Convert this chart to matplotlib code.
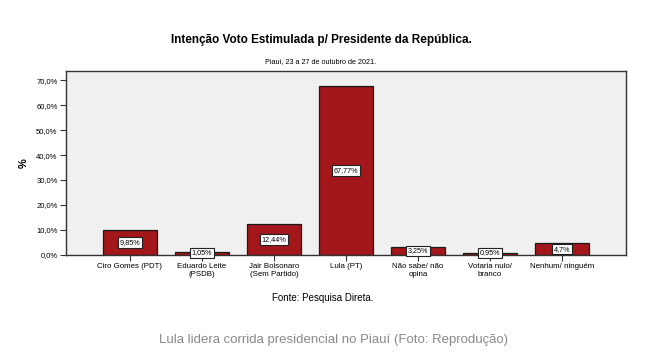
import matplotlib
matplotlib.use("Agg")
import matplotlib.pyplot as plt

plt.rcParams['font.family'] = ['Liberation Sans', 'DejaVu Sans']

categories = ["Ciro Gomes (PDT)", "Eduardo Leite\n(PSDB)", "Jair Bolsonaro\n(Sem Partido)",
              "Lula (PT)", "Não sabe/ não\nopina", "Votaria nulo/\nbranco", "Nenhum/ ninguém"]
values = [9.85, 1.05, 12.44, 67.77, 3.25, 0.95, 4.7]
value_labels = ["9,85%", "1,05%", "12,44%", "67,77%", "3,25%", "0,95%", "4,7%"]
yticks = [0, 10, 20, 30, 40, 50, 60, 70]
ytick_labels = ["0,0%", "10,0%", "20,0%", "30,0%", "40,0%", "50,0%", "60,0%", "70,0%"]

fig = plt.figure(figsize=(6.46, 3.52), dpi=100)
ax = fig.add_axes([0.102, 0.2756, 0.867, 0.5224])
ax.set_facecolor("#f0f0f0")

x = list(range(len(categories)))
ax.bar(x, values, width=0.75, color="#a3161a", edgecolor="#1a1a1a", linewidth=0.9, zorder=2)
for xi, v, lab in zip(x, values, value_labels):
    ax.text(xi, v / 2 if v > 1.6 else 0.8, lab, ha="center", va="center", fontsize=5.2,
            bbox=dict(boxstyle="square,pad=0.25", fc="white", ec="#222222", lw=0.8), zorder=3)

ax.set_xlim(-0.89, 6.89)
ax.set_ylim(0, 73.6)
ax.set_yticks(yticks)
ax.set_yticklabels(ytick_labels, fontsize=5.5)
ax.set_xticks(x)
ax.set_xticklabels(categories, fontsize=5.7)
ax.tick_params(axis="both", direction="out", length=4, width=0.8, color="#333333", pad=2)
for s in ax.spines.values():
    s.set_color("#333333")
    s.set_linewidth(1.0)

ax.set_ylabel("%", fontsize=8, fontweight="bold", labelpad=5)

fig.text(0.497, 0.886, "Intenção Voto Estimulada p/ Presidente da República.", ha="center", va="center",
         fontsize=8.5, fontweight="bold")
fig.text(0.497, 0.824, "Piauí, 23 a 27 de outubro de 2021.", ha="center", va="center", fontsize=5.2)
fig.text(0.5, 0.153, "Fonte: Pesquisa Direta.", ha="center", va="center", fontsize=7)
fig.text(0.516, 0.034, "Lula lidera corrida presidencial no Piauí (Foto: Reprodução)", ha="center",
         va="center", fontsize=9.5, color="#8a8a8a")

fig.savefig("out.png", dpi=100)
